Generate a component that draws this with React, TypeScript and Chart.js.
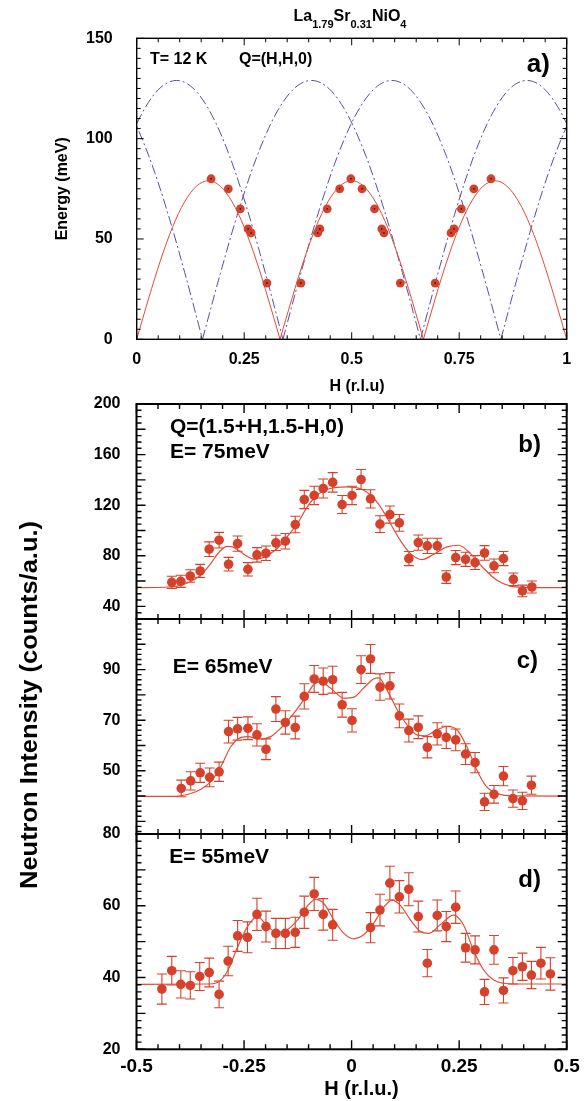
import React, { useEffect, useRef } from 'react';
import { Chart, registerables } from 'chart.js';

Chart.register(...registerables);

const W = 587;
const H = 1101;
const FONT = '"Liberation Sans", Arial, Helvetica, sans-serif';
const RED_PT = '#d5412b';
const RED_LINE = '#df4d38';
const BLUE = '#5a4dab';

// ---------- Panel a) dispersion ----------
const A_X_TICKS = [0, 0.25, 0.5, 0.75, 1];
const A_Y_TICKS = [0, 50, 100, 150];
const dispH = [0.173, 0.213, 0.241, 0.259, 0.266, 0.303, 0.382, 0.421, 0.426, 0.443, 0.472, 0.498, 0.524, 0.553, 0.570, 0.575, 0.613, 0.694, 0.731, 0.738, 0.755, 0.784, 0.824];
const dispE = [80, 75, 65, 55, 53, 28, 28, 53, 55, 65, 75, 80, 75, 65, 55, 53, 28, 28, 53, 55, 65, 75, 80];

const redArcE = [0, 20.4, 39.5, 55.9, 68.4, 76.3, 79, 76.3, 68.4, 55.9, 39.5, 20.4, 0];
const redArc1H = [0, 0.0278, 0.0556, 0.0833, 0.1111, 0.1389, 0.1667, 0.1944, 0.2222, 0.25, 0.2778, 0.3056, 0.3333];
const redArc2H = [0.3333, 0.3611, 0.3889, 0.4167, 0.4444, 0.4722, 0.5, 0.5278, 0.5556, 0.5833, 0.6111, 0.6389, 0.6667];
const redArc3H = [0.6667, 0.6944, 0.7222, 0.75, 0.7778, 0.8056, 0.8333, 0.8611, 0.8889, 0.9167, 0.9444, 0.9722, 1];

const blueArcE = [0, 33.4, 64.5, 91.2, 111.7, 124.6, 129, 124.6, 111.7, 91.2, 64.5, 33.4, 0];
const blueArc1H = [-0.345, -0.3035, -0.262, -0.2205, -0.179, -0.1375, -0.096, -0.0545, -0.013, 0.0285, 0.07, 0.1115, 0.153];
const blueArc2H = [-0.155, -0.1138, -0.0725, -0.0313, 0.01, 0.0513, 0.0925, 0.1338, 0.175, 0.2163, 0.2575, 0.2988, 0.34];
const blueArc3H = [0.153, 0.1953, 0.2375, 0.2798, 0.322, 0.3643, 0.4065, 0.4488, 0.491, 0.5333, 0.5755, 0.6178, 0.66];
const blueArc4H = [0.34, 0.3823, 0.4245, 0.4668, 0.509, 0.5513, 0.5935, 0.6358, 0.678, 0.7203, 0.7625, 0.8048, 0.847];
const blueArc5H = [0.66, 0.7013, 0.7425, 0.7838, 0.825, 0.8663, 0.9075, 0.9488, 0.99, 1.0313, 1.0725, 1.1138, 1.155];
const blueArc6H = [0.847, 0.8885, 0.93, 0.9715, 1.013, 1.0545, 1.096, 1.1375, 1.179, 1.2205, 1.262, 1.3035, 1.345];

// ---------- Panels b) c) d) constant-energy scans ----------
const SCAN_X_TICKS = [-0.5, -0.25, 0, 0.25, 0.5];
const B_Y_TICKS = [40, 80, 120, 160, 200];
const C_Y_TICKS = [50, 70, 90];
const D_Y_TICKS = [20, 40, 60, 80];

const bH = [-0.418, -0.397, -0.375, -0.352, -0.331, -0.308, -0.286, -0.265, -0.241, -0.22, -0.199, -0.176, -0.154, -0.131, -0.11, -0.087, -0.066, -0.044, -0.022, 0.001, 0.022, 0.044, 0.066, 0.089, 0.111, 0.133, 0.155, 0.176, 0.199, 0.22, 0.242, 0.265, 0.287, 0.309, 0.331, 0.353, 0.376, 0.397, 0.419];
const bI = [59.0, 59.8, 64, 68, 85.2, 92.3, 73.3, 89.6, 69.3, 80.7, 82.0, 90.2, 91.5, 104.7, 124.5, 127.7, 133.2, 138, 120.5, 127.7, 140.3, 125, 105, 112.6, 106, 77.8, 90.4, 87.8, 87.8, 63.2, 78.6, 77.2, 74.6, 82.2, 72.0, 77.8, 61.4, 52.2, 55.3];
const bErr = [4.8, 4.8, 5, 5.2, 5.8, 6.2, 5.4, 6, 5.3, 5.7, 5.7, 6, 6.1, 6.5, 7.2, 7.3, 7.5, 7.7, 7.1, 7.3, 7.9, 7.2, 6.6, 6.8, 6.6, 5.6, 6, 6, 6, 5, 5.6, 5.6, 5.5, 5.8, 5.4, 5.6, 5, 4.6, 4.8];
const bFitH = [-0.5, -0.45, -0.425, -0.4, -0.375, -0.35, -0.325, -0.3125, -0.3, -0.29, -0.275, -0.26, -0.24, -0.227, -0.21, -0.19, -0.173, -0.15, -0.126, -0.103, -0.08, -0.05, -0.012, 0.019, 0.044, 0.067, 0.09, 0.113, 0.137, 0.164, 0.19, 0.222, 0.249, 0.276, 0.307, 0.338, 0.369, 0.4, 0.45, 0.5];
const bFitI = [54.8, 54.9, 55.3, 56.4, 59.5, 65, 75, 81, 85.5, 87.5, 86.8, 83.5, 79, 77.3, 78, 81.5, 85.7, 95, 105.5, 118.7, 128, 133.2, 134.5, 133.2, 128, 118.7, 105.5, 92.3, 81.7, 77, 81, 87, 88.3, 81.7, 70, 60.6, 56, 55, 54.8, 54.8];

const cH = [-0.396, -0.374, -0.352, -0.33, -0.308, -0.286, -0.265, -0.241, -0.22, -0.199, -0.176, -0.154, -0.131, -0.11, -0.087, -0.066, -0.044, -0.022, 0.001, 0.022, 0.044, 0.066, 0.089, 0.111, 0.133, 0.155, 0.176, 0.199, 0.22, 0.242, 0.265, 0.287, 0.309, 0.331, 0.353, 0.375, 0.397, 0.418];
const cI = [43.0, 46.0, 49.2, 47.4, 49.6, 65.5, 66.6, 66.8, 64.2, 58.5, 74.4, 69.1, 67.1, 79.4, 86.3, 85.4, 86.0, 76.1, 69.9, 90.0, 94.2, 83.1, 83.6, 71.7, 65.9, 67.2, 59.3, 64.6, 63.2, 62.2, 56.6, 53.2, 37.7, 40.7, 47.9, 39.0, 38.1, 44.3];
const cErr = [3.3, 3.6, 3.8, 3.7, 3.8, 4.5, 4.5, 4.5, 4.4, 4.1, 4.9, 4.6, 4.5, 5, 5.3, 5.2, 5.3, 4.9, 4.6, 5.5, 5.7, 5.2, 5.2, 4.7, 4.5, 4.5, 4.2, 4.4, 4.4, 4.3, 4.1, 4, 3.4, 3.5, 3.8, 3.4, 3.4, 3.6];
const cFitH = [-0.5, -0.41, -0.374, -0.351, -0.328, -0.304, -0.281, -0.262, -0.242, -0.212, -0.188, -0.165, -0.134, -0.111, -0.088, -0.072, -0.049, -0.018, 0.005, 0.028, 0.051, 0.063, 0.082, 0.106, 0.129, 0.152, 0.171, 0.198, 0.222, 0.245, 0.268, 0.291, 0.314, 0.338, 0.369, 0.5];
const cFitI = [39.9, 39.9, 41, 42.6, 45.6, 51.6, 59.5, 62.8, 63.5, 62.5, 63.5, 66.8, 72.8, 78.1, 84, 85.2, 82.7, 78.7, 79.1, 82.7, 86.3, 86.7, 82, 74.1, 68.1, 64.2, 63.8, 66.2, 67.5, 66.2, 59.5, 50.3, 43.6, 41, 40.1, 40];

const dH = [-0.441, -0.418, -0.397, -0.375, -0.353, -0.331, -0.308, -0.287, -0.265, -0.242, -0.22, -0.199, -0.176, -0.154, -0.131, -0.11, -0.087, -0.066, -0.044, 0.044, 0.066, 0.089, 0.111, 0.133, 0.155, 0.176, 0.199, 0.22, 0.242, 0.265, 0.287, 0.309, 0.331, 0.353, 0.375, 0.397, 0.418, 0.44, 0.462];
const dI = [36.8, 41.9, 38.1, 37.8, 40.3, 41.4, 35.3, 44.6, 51.6, 51.2, 57.6, 54.2, 52.3, 52.3, 52.6, 58.2, 63.3, 57.6, 54.7, 53.9, 58.8, 66.3, 62.5, 64.6, 57.0, 44.0, 57.3, 54.2, 59.6, 48.3, 47.7, 36.0, 47.7, 36.4, 41.9, 43.0, 40.7, 44.0, 41.0];
const dErr = [4.2, 4, 3.8, 3.8, 3.9, 4, 3.7, 4.1, 4.3, 4.3, 4.5, 4.3, 4.2, 4.2, 4.2, 4.5, 4.6, 4.4, 4.3, 4.2, 4.4, 4.7, 4.5, 4.6, 4.3, 3.8, 4.3, 4.2, 4.5, 4, 3.9, 3.5, 4, 3.5, 3.7, 3.8, 3.8, 4.4, 4.5];
const dFitH = [-0.5, -0.33, -0.312, -0.289, -0.266, -0.242, -0.219, -0.196, -0.173, -0.15, -0.126, -0.103, -0.084, -0.065, -0.041, -0.018, 0.005, 0.028, 0.051, 0.075, 0.094, 0.113, 0.137, 0.16, 0.179, 0.206, 0.237, 0.26, 0.283, 0.307, 0.33, 0.353, 0.38, 0.5];
const dFitI = [38.1, 38.2, 38.6, 41.7, 48.2, 54.2, 57, 54.4, 52.5, 53.3, 56, 59.9, 61.8, 60.7, 56, 52.3, 50.8, 51.9, 55.1, 59.6, 61.6, 60.2, 56, 52.8, 52.3, 54.7, 57.4, 54.7, 47.7, 42.1, 39.3, 38.4, 38.2, 38.2];

// ---------- helpers ----------
const pts = (xs: number[], ys: number[]) => xs.map((x, i) => ({ x, y: ys[i] }));

type TextItem = {
  text?: string;
  parts?: { t: string; size: number; dy: number }[];
  x: number;
  y: number;
  size?: number;
  align?: CanvasTextAlign;
  baseline?: CanvasTextBaseline;
  rotate?: number;
  width?: number;
};

function textPlugin(items: TextItem[]) {
  return {
    id: 'texts',
    afterDraw(chart: any) {
      const ctx: CanvasRenderingContext2D = chart.ctx;
      for (const t of items) {
        ctx.save();
        ctx.fillStyle = '#000';
        ctx.translate(t.x, t.y);
        if (t.rotate) ctx.rotate(t.rotate);
        ctx.textBaseline = t.baseline || 'alphabetic';
        if (t.parts) {
          let total = 0;
          for (const p of t.parts) {
            ctx.font = `bold ${p.size}px ${FONT}`;
            total += ctx.measureText(p.t).width;
          }
          let cx = -total / 2;
          ctx.textAlign = 'left';
          for (const p of t.parts) {
            ctx.font = `bold ${p.size}px ${FONT}`;
            ctx.fillText(p.t, cx, p.dy);
            cx += ctx.measureText(p.t).width;
          }
        } else if (t.text) {
          ctx.font = `bold ${t.size}px ${FONT}`;
          ctx.textAlign = t.align || 'left';
          if (t.width) {
            const w = ctx.measureText(t.text).width;
            ctx.scale(t.width / w, 1);
          }
          ctx.fillText(t.text, 0, 0);
        }
        ctx.restore();
      }
    },
  };
}

type Bars = { xs: number[]; ys: number[]; errs: number[] };

function errorBarPlugin(bars: Bars[]) {
  return {
    id: 'errbars',
    beforeDatasetsDraw(chart: any) {
      const { ctx, scales, chartArea } = chart;
      ctx.save();
      ctx.beginPath();
      ctx.rect(chartArea.left, chartArea.top, chartArea.width, chartArea.height);
      ctx.clip();
      ctx.strokeStyle = RED_PT;
      ctx.lineWidth = 1.1;
      for (const b of bars) {
        b.xs.forEach((xv, i) => {
          const px = scales.x.getPixelForValue(xv);
          const y1 = scales.y.getPixelForValue(b.ys[i] + b.errs[i]);
          const y2 = scales.y.getPixelForValue(b.ys[i] - b.errs[i]);
          ctx.beginPath();
          ctx.moveTo(px, y1);
          ctx.lineTo(px, y2);
          ctx.moveTo(px - 5, y1);
          ctx.lineTo(px + 5, y1);
          ctx.moveTo(px - 5, y2);
          ctx.lineTo(px + 5, y2);
          ctx.stroke();
        });
      }
      ctx.restore();
    },
  };
}

type FrameOpts = {
  xMinor: number; xMajor: number; yMinor: number; yMajor: number;
  major: number; minor: number; frame: number; tick: number;
};

function framePlugin(o: FrameOpts) {
  return {
    id: 'frameTicks',
    afterDatasetsDraw(chart: any) {
      const { ctx, chartArea: a, scales } = chart;
      const xs = scales.x;
      const ys = scales.y;
      const isMajor = (v: number, step: number) => Math.abs(v / step - Math.round(v / step)) < 1e-6;
      ctx.save();
      ctx.strokeStyle = '#000';
      ctx.lineWidth = o.tick;
      ctx.beginPath();
      for (let i = Math.ceil(xs.min / o.xMinor - 1e-9); i * o.xMinor <= xs.max + 1e-9; i++) {
        const v = i * o.xMinor;
        const len = isMajor(v, o.xMajor) ? o.major : o.minor;
        const px = xs.getPixelForValue(v);
        ctx.moveTo(px, a.bottom);
        ctx.lineTo(px, a.bottom - len);
        ctx.moveTo(px, a.top);
        ctx.lineTo(px, a.top + len);
      }
      for (let i = Math.ceil(ys.min / o.yMinor - 1e-9); i * o.yMinor <= ys.max + 1e-9; i++) {
        const v = i * o.yMinor;
        const len = isMajor(v, o.yMajor) ? o.major : o.minor;
        const py = ys.getPixelForValue(v);
        ctx.moveTo(a.left, py);
        ctx.lineTo(a.left + len, py);
        ctx.moveTo(a.right, py);
        ctx.lineTo(a.right - len, py);
      }
      ctx.stroke();
      ctx.lineWidth = o.frame;
      ctx.strokeRect(a.left, a.top, a.right - a.left, a.bottom - a.top);
      ctx.restore();
    },
  };
}

type Panel = {
  box: { left: number; top: number; right: number; bottom: number };
  xMin: number; xMax: number; yMin: number; yMax: number;
  xTicks: number[]; yTicks: number[];
  showX: boolean; xSize: number; xPad: number; xh: number;
  ySize: number; yPad: number;
  frame: FrameOpts;
  datasets: any[];
  bars: Bars[];
  texts: TextItem[];
};

function buildConfig(p: Panel): any {
  return {
    type: 'scatter',
    data: { datasets: p.datasets },
    options: {
      responsive: false,
      animation: false,
      events: [],
      layout: {
        padding: { left: 0, top: p.box.top, right: W - p.box.right, bottom: H - p.box.bottom - p.xh },
      },
      plugins: { legend: { display: false }, tooltip: { enabled: false }, title: { display: false } },
      scales: {
        x: {
          type: 'linear', position: 'bottom', min: p.xMin, max: p.xMax,
          grid: { display: false, drawTicks: false }, border: { display: false },
          afterBuildTicks: (s: any) => { s.ticks = p.xTicks.map((v) => ({ value: v })); },
          afterFit: (s: any) => { s.height = p.xh; },
          ticks: {
            display: p.showX, autoSkip: false, maxRotation: 0, padding: p.xPad, color: '#000',
            font: { family: FONT, size: p.xSize, weight: 'bold' },
            callback: (v: number) => String(v),
          },
        },
        y: {
          type: 'linear', position: 'left', min: p.yMin, max: p.yMax,
          grid: { display: false, drawTicks: false }, border: { display: false },
          afterBuildTicks: (s: any) => { s.ticks = p.yTicks.map((v) => ({ value: v })); },
          afterFit: (s: any) => { s.width = p.box.left; },
          ticks: {
            autoSkip: false, padding: p.yPad, color: '#000',
            font: { family: FONT, size: p.ySize, weight: 'bold' },
            callback: (v: number) => String(v),
          },
        },
      },
    },
    plugins: [errorBarPlugin(p.bars), framePlugin(p.frame), textPlugin(p.texts)],
  };
}

const pointSet = (xs: number[], ys: number[], r: number) => ({
  data: pts(xs, ys), showLine: false, pointRadius: r, pointBackgroundColor: RED_PT,
  pointBorderColor: RED_PT, pointBorderWidth: 0,
});
const lineSet = (xs: number[], ys: number[], color: string, width: number, dash: number[] = []) => ({
  data: pts(xs, ys), showLine: true, pointRadius: 0, borderColor: color, borderWidth: width,
  borderDash: dash, cubicInterpolationMode: 'monotone', fill: false,
});

const scanFrame: FrameOpts = { xMinor: 0.05, xMajor: 0.25, yMinor: 5, yMajor: 20, major: 9, minor: 5, frame: 2, tick: 1.4 };
const BLUE_DASH = [10, 3, 2, 3];

const panels: Panel[] = [
  {
    box: { left: 136.7, top: 38.3, right: 566.7, bottom: 339.3 },
    xMin: 0, xMax: 1, yMin: 0, yMax: 150,
    xTicks: A_X_TICKS, yTicks: A_Y_TICKS,
    showX: true, xSize: 16, xPad: 10.6, xh: 55, ySize: 16, yPad: 24,
    frame: { xMinor: 0.05, xMajor: 0.25, yMinor: 5, yMajor: 50, major: 7, minor: 4, frame: 1.4, tick: 1 },
    datasets: [
      { data: pts(dispH, dispE), showLine: false, pointRadius: 0.8, pointBackgroundColor: '#000', pointBorderWidth: 0 },
      pointSet(dispH, dispE, 4.4),
      lineSet(redArc1H, redArcE, RED_LINE, 1),
      lineSet(redArc2H, redArcE, RED_LINE, 1),
      lineSet(redArc3H, redArcE, RED_LINE, 1),
      lineSet(blueArc1H, blueArcE, BLUE, 1, BLUE_DASH),
      lineSet(blueArc2H, blueArcE, BLUE, 1, BLUE_DASH),
      lineSet(blueArc3H, blueArcE, BLUE, 1, BLUE_DASH),
      lineSet(blueArc4H, blueArcE, BLUE, 1, BLUE_DASH),
      lineSet(blueArc5H, blueArcE, BLUE, 1, BLUE_DASH),
      lineSet(blueArc6H, blueArcE, BLUE, 1, BLUE_DASH),
    ],
    bars: [],
    texts: [
      { parts: [
        { t: 'La', size: 16, dy: 0 }, { t: '1.79', size: 11, dy: 7.6 },
        { t: 'Sr', size: 16, dy: 0 }, { t: '0.31', size: 11, dy: 7.6 },
        { t: 'NiO', size: 16, dy: 0 }, { t: '4', size: 11, dy: 7.6 },
      ], x: 350, y: 20.7 },
      { text: 'T= 12 K', x: 150, y: 64, size: 16 },
      { text: 'Q=(H,H,0)', x: 239, y: 64, size: 16 },
      { text: 'a)', x: 526.7, y: 71.7, size: 26 },
      { text: 'Energy (meV)', x: 63, y: 188.8, size: 16, align: 'center', baseline: 'middle', rotate: -Math.PI / 2 },
      { text: 'H (r.l.u)', x: 357, y: 391, size: 16, align: 'center' },
    ],
  },
  {
    box: { left: 136.5, top: 404, right: 566.7, bottom: 619 },
    xMin: -0.5, xMax: 0.5, yMin: 30, yMax: 200,
    xTicks: SCAN_X_TICKS, yTicks: B_Y_TICKS,
    showX: false, xSize: 19, xPad: 6, xh: 0, ySize: 16, yPad: 16,
    frame: scanFrame,
    datasets: [pointSet(bH, bI, 4.8), lineSet(bFitH, bFitI, RED_LINE, 1.2)],
    bars: [{ xs: bH, ys: bI, errs: bErr }],
    texts: [
      { text: 'Q=(1.5+H,1.5-H,0)', x: 170, y: 433.3, size: 21 },
      { text: 'E= 75meV', x: 170, y: 458.3, size: 21 },
      { text: 'b)', x: 518.3, y: 451.7, size: 24 },
    ],
  },
  {
    box: { left: 136.5, top: 619, right: 566.7, bottom: 834 },
    xMin: -0.5, xMax: 0.5, yMin: 25, yMax: 110,
    xTicks: SCAN_X_TICKS, yTicks: C_Y_TICKS,
    showX: false, xSize: 19, xPad: 6, xh: 0, ySize: 16, yPad: 16,
    frame: { ...scanFrame, yMinor: 2, yMajor: 10 },
    datasets: [pointSet(cH, cI, 4.8), lineSet(cFitH, cFitI, RED_LINE, 1.2)],
    bars: [{ xs: cH, ys: cI, errs: cErr }],
    texts: [
      { text: 'E= 65meV', x: 172.7, y: 673.3, size: 21 },
      { text: 'c)', x: 516.7, y: 668, size: 24 },
      { text: 'Neutron Intensity (counts/a.u.)', x: 31, y: 705, size: 23, align: 'center', baseline: 'middle', rotate: -Math.PI / 2, width: 368 },
    ],
  },
  {
    box: { left: 136.5, top: 834, right: 566.7, bottom: 1049.3 },
    xMin: -0.5, xMax: 0.5, yMin: 20, yMax: 80,
    xTicks: SCAN_X_TICKS, yTicks: D_Y_TICKS,
    showX: true, xSize: 19, xPad: 6.3, xh: 40, ySize: 16, yPad: 16,
    frame: { ...scanFrame, yMinor: 2, yMajor: 10 },
    datasets: [pointSet(dH, dI, 4.8), lineSet(dFitH, dFitI, RED_LINE, 1.2)],
    bars: [{ xs: dH, ys: dI, errs: dErr }],
    texts: [
      { text: 'E= 55meV', x: 169.3, y: 863.3, size: 21 },
      { text: 'd)', x: 518.3, y: 886.7, size: 24 },
      { text: 'H (r.l.u.)', x: 361.5, y: 1095, size: 20, align: 'center' },
    ],
  },
];

export default function App() {
  const r0 = useRef<HTMLCanvasElement>(null);
  const r1 = useRef<HTMLCanvasElement>(null);
  const r2 = useRef<HTMLCanvasElement>(null);
  const r3 = useRef<HTMLCanvasElement>(null);
  const refs = [r0, r1, r2, r3];

  useEffect(() => {
    const charts = panels.map((p, i) => new Chart(refs[i].current as HTMLCanvasElement, buildConfig(p)));
    return () => charts.forEach((c) => c.destroy());
  }, []);

  return (
    <div style={{ position: 'absolute', left: 0, top: 0, width: W, height: H, background: '#fff', overflow: 'hidden' }}>
      {refs.map((r, i) => (
        <canvas key={i} ref={r} width={W} height={H} style={{ position: 'absolute', left: 0, top: 0, width: W, height: H }} />
      ))}
    </div>
  );
}
